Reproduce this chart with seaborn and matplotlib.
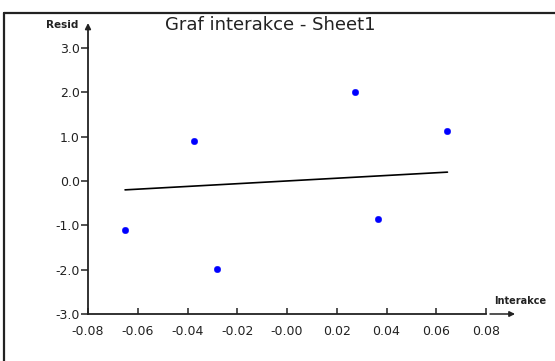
import matplotlib
matplotlib.use("Agg")
import matplotlib.pyplot as plt
import seaborn as sns
import pandas as pd
from matplotlib.lines import Line2D

# Data
interakce = [-0.0651, -0.0374, -0.0281, 0.0275, 0.0367, 0.0645]
resid = [-1.106, 0.903, -1.986, 2.016, -0.865, 1.135]
fit_x = [-0.0651, 0.0645]
fit_y = [-0.20, 0.20]
xticks = [-0.08, -0.06, -0.04, -0.02, 0.0, 0.02, 0.04, 0.06, 0.08]
xtick_labels = ["-0.08", "-0.06", "-0.04", "-0.02", "-0.00", "0.02", "0.04", "0.06", "0.08"]
yticks = [-3.0, -2.0, -1.0, 0.0, 1.0, 2.0, 3.0]
ytick_labels = ["-3.0", "-2.0", "-1.0", "0.0", "1.0", "2.0", "3.0"]
title = "Graf interakce - Sheet1"
xlabel = "Interakce"
ylabel = "Resid"

sns.set_theme(style="white")
plt.rcParams['font.family'] = ['DejaVu Sans']

fig = plt.figure(figsize=(5.55, 3.61), dpi=100)
ax = fig.add_axes([88/555, 47/361, 398/555, 266/361])

df = pd.DataFrame({"x": interakce, "y": resid})
fit = pd.DataFrame({"x": fit_x, "y": fit_y})
sns.lineplot(data=fit, x="x", y="y", ax=ax, color="black", linewidth=1.2)
sns.scatterplot(data=df, x="x", y="y", ax=ax, color="#0000ff", s=22,
                edgecolor="#0000ff", linewidth=0.3, zorder=3)

ax.set_xlim(-0.08, 0.08)
ax.set_ylim(-3, 3)
ax.set_xticks(xticks)
ax.set_xticklabels(xtick_labels)
ax.set_yticks(yticks)
ax.set_yticklabels(ytick_labels)
ax.set_xlabel("")
ax.set_ylabel("")

for s in ["top", "right"]:
    ax.spines[s].set_visible(False)
for s in ["left", "bottom"]:
    ax.spines[s].set_color("#222222")
    ax.spines[s].set_linewidth(1.3)

ax.tick_params(axis="x", direction="in", length=4, width=1.1, colors="#222222",
               labelsize=9, pad=8, bottom=True)
ax.tick_params(axis="y", direction="out", length=5, width=1.1, colors="#222222",
               labelsize=9, pad=1, left=True)
for lab in ax.get_xticklabels() + ax.get_yticklabels():
    lab.set_color("#222222")

# axis arrows
ax.annotate("", xy=(0, 1.094), xytext=(0, 1.0), xycoords="axes fraction",
            arrowprops=dict(arrowstyle="-|>", color="#222222", lw=1.3,
                            mutation_scale=8, shrinkA=0, shrinkB=0),
            annotation_clip=False)
ax.annotate("", xy=(1.073, 0), xytext=(1.010, 0), xycoords="axes fraction",
            arrowprops=dict(arrowstyle="-|>", color="#222222", lw=1.1,
                            mutation_scale=8, shrinkA=0, shrinkB=0),
            annotation_clip=False)

ax.text(-0.065, 1.086, ylabel, transform=ax.transAxes, ha="center", va="center",
        fontsize=7.5, color="#222222", fontweight="bold")
ax.text(1.085, 0.049, xlabel, transform=ax.transAxes, ha="center", va="center",
        fontsize=7, color="#222222", fontweight="bold")
ax.text(0.457, 1.086, title, transform=ax.transAxes, ha="center", va="center",
        fontsize=13, color="#222222")

# outer frame lines (left and top)
fig.add_artist(Line2D([4/555, 4/555], [0, 1 - 13/361], transform=fig.transFigure,
                      color="#222222", lw=1.6))
fig.add_artist(Line2D([4/555, 1], [1 - 13/361, 1 - 13/361], transform=fig.transFigure,
                      color="#222222", lw=1.6))

fig.savefig("out.png", dpi=100)
